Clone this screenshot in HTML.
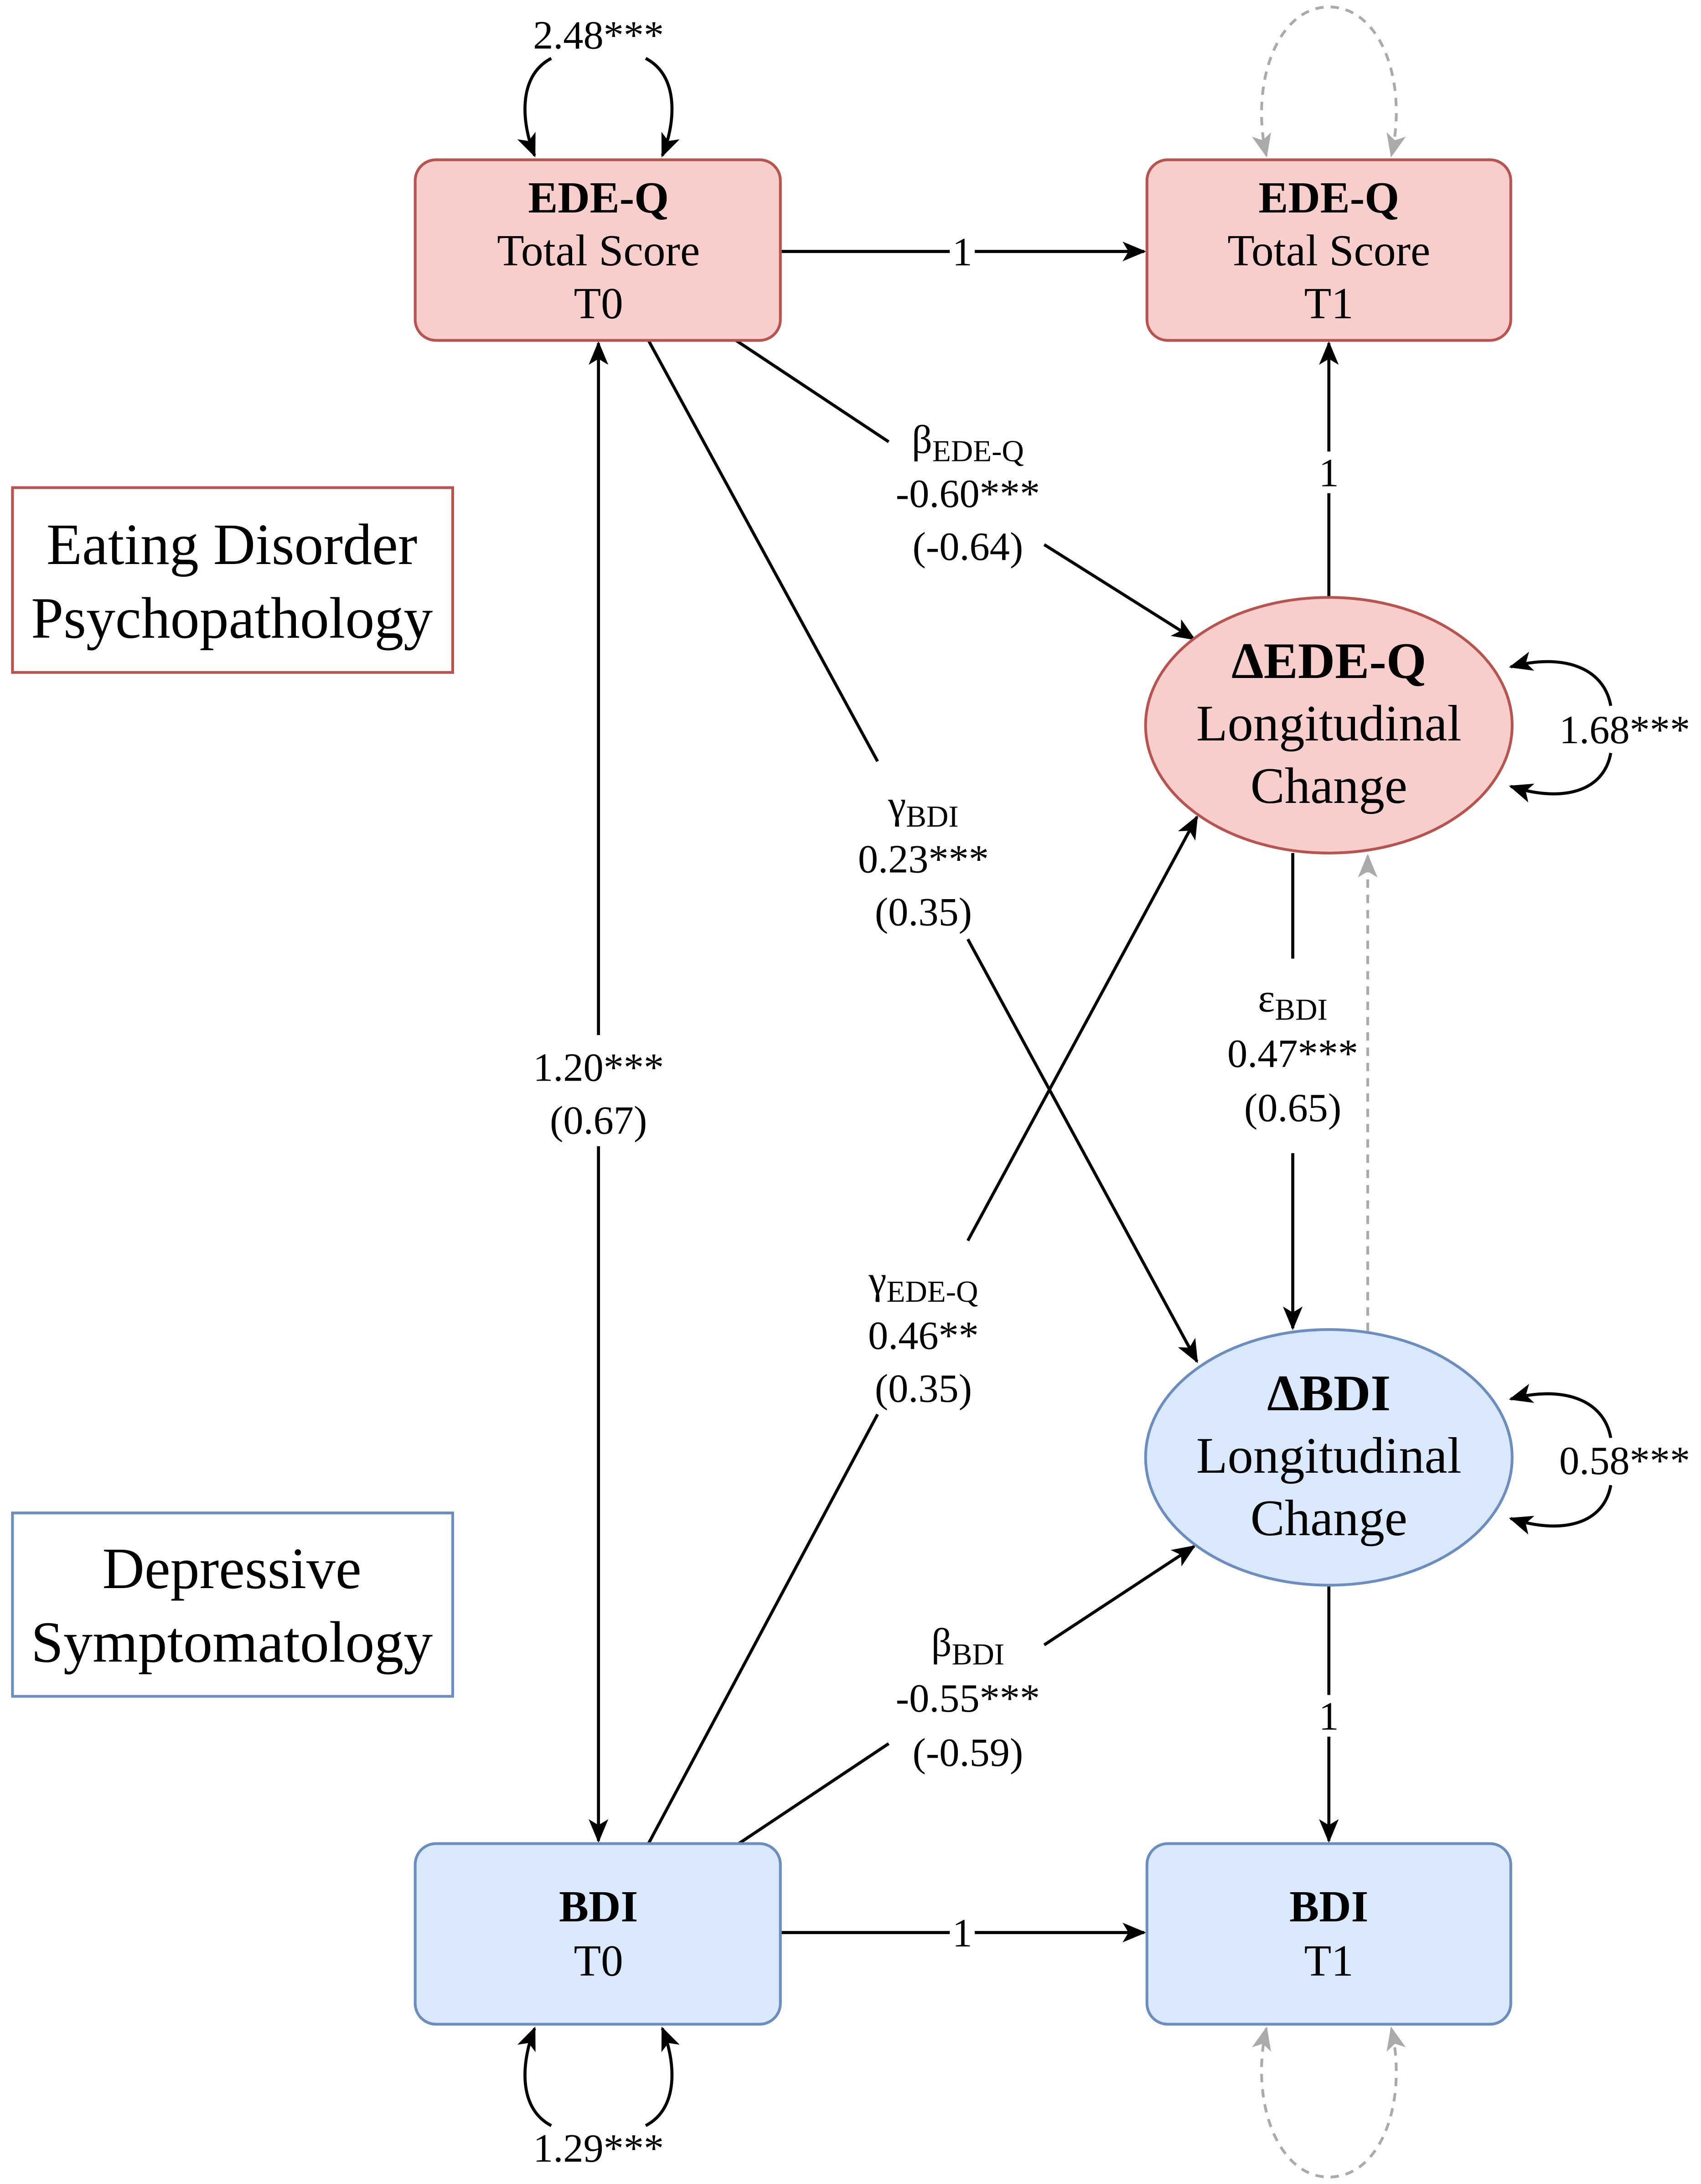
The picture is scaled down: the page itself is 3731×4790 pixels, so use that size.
<!DOCTYPE html>
<html><head><meta charset="utf-8"><style>html,body{margin:0;padding:0;background:#fff}svg{display:block}</style></head>
<body>
<svg width="3731" height="4790" viewBox="0 0 1225 1572" preserveAspectRatio="none" xmlns="http://www.w3.org/2000/svg" font-family="'Liberation Serif', serif">
<defs>
<marker id="a" viewBox="0 0 12 12" refX="11" refY="6" markerWidth="17" markerHeight="17" markerUnits="userSpaceOnUse" orient="auto">
<path d="M0,1 L12,6 L0,11 L3,6 Z" fill="#000"/></marker>
<marker id="g" viewBox="0 0 12 12" refX="11" refY="6" markerWidth="17" markerHeight="17" markerUnits="userSpaceOnUse" orient="auto">
<path d="M0,1 L12,6 L0,11 L3,6 Z" fill="#aaa"/></marker>
<marker id="gs" viewBox="0 0 12 12" refX="1" refY="6" markerWidth="17" markerHeight="17" markerUnits="userSpaceOnUse" orient="auto">
<path d="M12,1 L0,6 L12,11 L9,6 Z" fill="#aaa"/></marker>
</defs>
<rect width="1225" height="1572" fill="#fff"/>

<g stroke="#000" stroke-width="2.2" fill="none">
<line x1="562" y1="181" x2="824" y2="181" marker-end="url(#a)"/>
<line x1="562" y1="1391" x2="824" y2="1391" marker-end="url(#a)"/>
<line x1="957" y1="430" x2="957" y2="247" marker-end="url(#a)"/>
<line x1="957" y1="1141" x2="957" y2="1325" marker-end="url(#a)"/>
<line x1="431" y1="745" x2="431" y2="247" marker-end="url(#a)"/>
<line x1="431" y1="825" x2="431" y2="1325" marker-end="url(#a)"/>
<line x1="530" y1="245" x2="640" y2="318"/>
<line x1="752" y1="392" x2="860" y2="460" marker-end="url(#a)"/>
<line x1="467" y1="245" x2="632" y2="548"/>
<line x1="697" y1="676" x2="862" y2="980" marker-end="url(#a)"/>
<line x1="467" y1="1327" x2="632" y2="1018"/>
<line x1="697" y1="893" x2="862" y2="588" marker-end="url(#a)"/>
<line x1="532" y1="1327" x2="640" y2="1255"/>
<line x1="752" y1="1184" x2="860" y2="1113" marker-end="url(#a)"/>
<line x1="931" y1="614" x2="931" y2="690"/>
<line x1="931" y1="830" x2="931" y2="956" marker-end="url(#a)"/>
<path d="M397 42 C372 55 376 90 385 112" marker-end="url(#a)"/>
<path d="M465 42 C490 55 486 90 477 112" marker-end="url(#a)"/>
<path d="M397 1530 C372 1517 376 1482 385 1460" marker-end="url(#a)"/>
<path d="M465 1530 C490 1517 486 1482 477 1460" marker-end="url(#a)"/>
<path d="M1160 508 C1155 480 1125 470 1088 480" marker-end="url(#a)"/>
<path d="M1160 542 C1155 570 1125 578 1088 566" marker-end="url(#a)"/>
<path d="M1160 1035 C1155 1007 1125 997 1088 1007" marker-end="url(#a)"/>
<path d="M1160 1069 C1155 1097 1125 1105 1088 1093" marker-end="url(#a)"/>
</g>
<g stroke="#aaa" stroke-width="2" fill="none" stroke-dasharray="6,5">
<line x1="985" y1="958" x2="985" y2="616" marker-end="url(#g)"/>
<path d="M912 112 C900 60 920 5 957 5 C995 5 1014 60 1002 112" marker-start="url(#gs)" marker-end="url(#g)"/>
<path d="M912 1460 C900 1512 920 1567 957 1567 C995 1567 1014 1512 1002 1460" marker-start="url(#gs)" marker-end="url(#g)"/>
</g>

<rect x="299" y="115" width="263" height="130" rx="15" fill="#f8cecc" stroke="#b85450" stroke-width="2"/>
<rect x="826" y="115" width="262" height="130" rx="15" fill="#f8cecc" stroke="#b85450" stroke-width="2"/>
<rect x="299" y="1327" width="263" height="130" rx="15" fill="#dae8fc" stroke="#6c8ebf" stroke-width="2"/>
<rect x="826" y="1327" width="262" height="130" rx="15" fill="#dae8fc" stroke="#6c8ebf" stroke-width="2"/>
<ellipse cx="957" cy="522" rx="132" ry="92" fill="#f8cecc" stroke="#b85450" stroke-width="2"/>
<ellipse cx="957" cy="1049" rx="132" ry="92" fill="#dae8fc" stroke="#6c8ebf" stroke-width="2"/>
<rect x="9" y="351" width="317" height="133" fill="#fff" stroke="#b85450" stroke-width="2"/>
<rect x="9" y="1089" width="317" height="132" fill="#fff" stroke="#6c8ebf" stroke-width="2"/>

<g text-anchor="middle" fill="#000" font-size="32">
<text x="431" y="153" font-weight="bold">EDE-Q</text>
<text x="431" y="191">Total Score</text>
<text x="431" y="229">T0</text>
<text x="957" y="153" font-weight="bold">EDE-Q</text>
<text x="957" y="191">Total Score</text>
<text x="957" y="229">T1</text>
<text x="431" y="1383" font-weight="bold">BDI</text>
<text x="431" y="1422">T0</text>
<text x="957" y="1383" font-weight="bold">BDI</text>
<text x="957" y="1422">T1</text>
<g font-size="37">
<text x="957" y="488" font-weight="bold">ΔEDE-Q</text>
<text x="957" y="533">Longitudinal</text>
<text x="957" y="578">Change</text>
<text x="957" y="1015" font-weight="bold">ΔBDI</text>
<text x="957" y="1060">Longitudinal</text>
<text x="957" y="1105">Change</text>
</g>
<g font-size="42">
<text x="167" y="406">Eating Disorder</text>
<text x="167" y="459">Psychopathology</text>
<text x="167" y="1143">Depressive</text>
<text x="167" y="1196">Symptomatology</text>
</g>
<g font-size="29">
<rect x="684" y="167" width="18" height="28" fill="#fff"/><text x="693" y="191">1</text>
<rect x="684" y="1377" width="18" height="28" fill="#fff"/><text x="693" y="1401">1</text>
<rect x="948" y="325" width="18" height="30" fill="#fff"/><text x="957" y="350">1</text>
<rect x="948" y="1220" width="18" height="30" fill="#fff"/><text x="957" y="1245">1</text>
<text x="431" y="35">2.48***</text>
<text x="431" y="1556">1.29***</text>
<rect x="1124" y="509" width="100" height="32" fill="#fff"/><text x="1170" y="535">1.68***</text>
<rect x="1124" y="1035" width="100" height="32" fill="#fff"/><text x="1170" y="1061">0.58***</text>
<text x="431" y="778">1.20***</text>
<text x="431" y="816">(0.67)</text>
<text x="697" y="326">β<tspan font-size="22" dy="6">EDE-Q</tspan></text>
<text x="697" y="365">-0.60***</text>
<text x="697" y="403">(-0.64)</text>
<text x="665" y="589">γ<tspan font-size="22" dy="6">BDI</tspan></text>
<text x="665" y="628">0.23***</text>
<text x="665" y="666">(0.35)</text>
<text x="665" y="931">γ<tspan font-size="22" dy="6">EDE-Q</tspan></text>
<text x="665" y="971">0.46**</text>
<text x="665" y="1009">(0.35)</text>
<text x="697" y="1192">β<tspan font-size="22" dy="6">BDI</tspan></text>
<text x="697" y="1232">-0.55***</text>
<text x="697" y="1271">(-0.59)</text>
<text x="931" y="728">ε<tspan font-size="22" dy="6">BDI</tspan></text>
<text x="931" y="768">0.47***</text>
<text x="931" y="807">(0.65)</text>
</g>
</g>
</svg>
</body></html>
